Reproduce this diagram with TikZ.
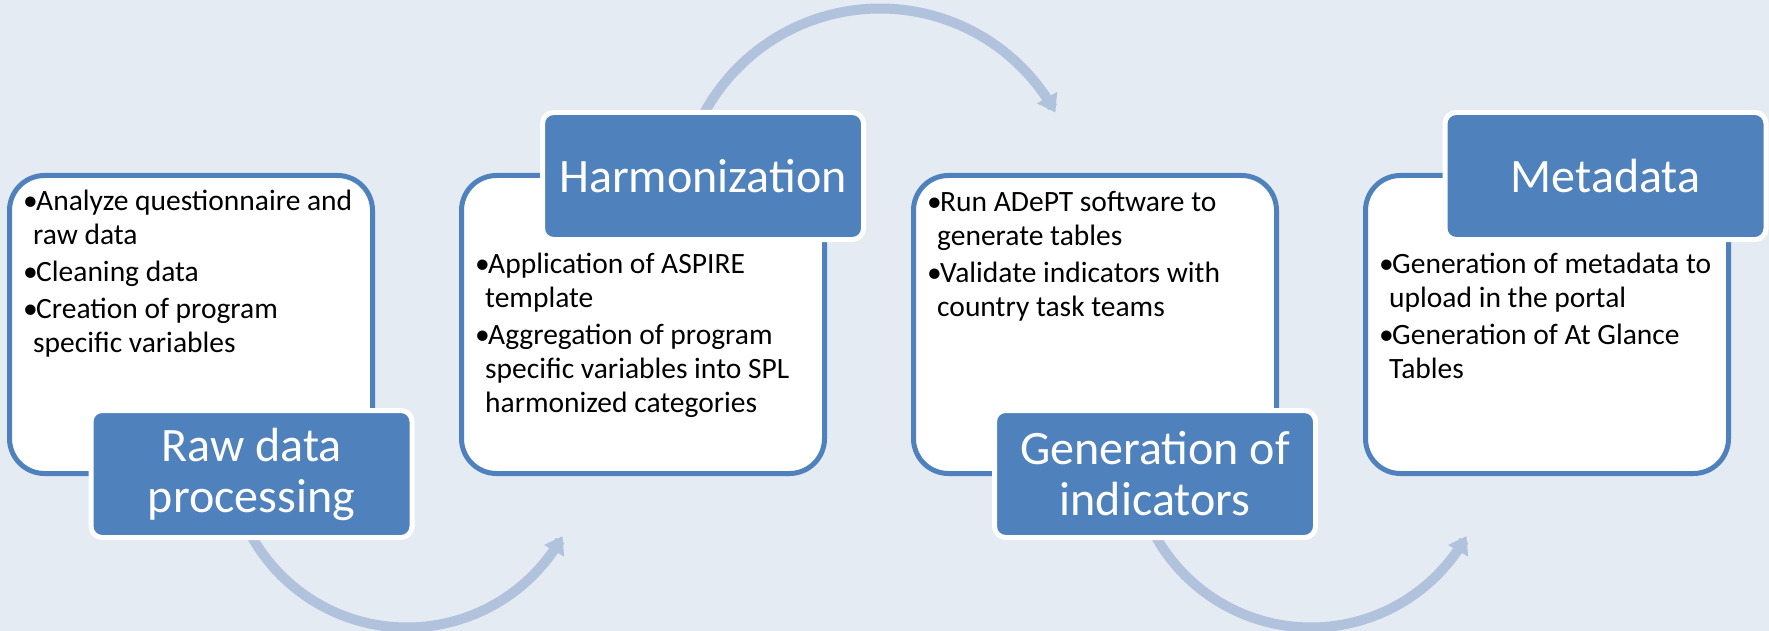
\documentclass[tikz,border=0pt]{standalone}
\usepackage{fontspec}
\setmainfont{Carlito}
\usetikzlibrary{arrows.meta}
\definecolor{bg}{RGB}{229,235,243}
\definecolor{accent}{RGB}{79,129,189}
\definecolor{arrowc}{RGB}{177,194,221}
\tikzset{
 panel/.style={draw=accent, line width=5pt, fill=white, rounded corners=35pt, minimum width=363pt, minimum height=298pt, inner sep=0pt},
 tag/.style={draw=white, line width=5pt, fill=accent, rounded corners=11pt, minimum width=321pt, minimum height=127pt, inner sep=0pt, text=white, font=\fontsize{48}{51}\selectfont, align=center},
 body/.style={anchor=north west, inner sep=0pt, align=left, font=\fontsize{29.5}{34}\selectfont, text=black},
 flow/.style={draw=arrowc, line width=10pt, -{Triangle[length=17pt,width=22pt]}},
}
\newcommand{\bul}{\makebox[13pt][l]{\textbullet}}
\newcommand{\ind}{\hspace*{10pt}}
\newcommand{\fst}{\rule{0pt}{25pt}}
\begin{document}
\begin{tikzpicture}[x=1pt,y=-1pt]
\fill[bg] (0,0) rectangle (1769,631);
\useasboundingbox (0,0) rectangle (1769,631);
% circular arrows
\coordinate (c1) at (407,449.5);
\coordinate (c2) at (880,208.5);
\coordinate (c3) at (1311,449.5);
\draw[flow] plot[domain=160:29.1, samples=80] ({407+178*cos(\x)},{449.5+178*sin(\x)});
\draw[flow] plot[domain=200:331.3, samples=80] ({880+200*cos(\x)},{208.5+200*sin(\x)});
\draw[flow] plot[domain=160:29.1, samples=80] ({1311+178*cos(\x)},{449.5+178*sin(\x)});
% panels
\node[panel] (p1) at (191,324.5) {};
\node[panel] (p2) at (643,324.5) {};
\node[panel] (p3) at (1095,324.5) {};
\node[panel] (p4) at (1547,324.5) {};
% body texts
\node[body] (b1) at (23,185) {\fst\bul Analyze questionnaire and\\ \ind raw data\\[3pt] \bul Cleaning data\\[3pt] \bul Creation of program\\ \ind specific variables};
\node[body] (b2) at (475,248) {\fst\bul Application of ASPIRE\\ \ind template\\[3pt] \bul Aggregation of program\\ \ind specific variables into SPL\\ \ind harmonized categories};
\node[body] (b3) at (927,186) {\fst\bul Run ADePT software to\\ \ind generate tables\\[3pt] \bul Validate indicators with\\ \ind country task teams};
\node[body] (b4) at (1379,248) {\fst\bul Generation of metadata to\\ \ind upload in the portal\\[3pt] \bul Generation of At Glance\\ \ind Tables};
% labels
\node[tag] (t1) at (251.5,474) {Raw data\\processing};
\node[tag] (t2) at (703,176) {Harmonization};
\node[tag] (t3) at (1155,474) {Generation of\\indicators};
\node[tag] (t4) at (1605.5,176) {Metadata};
\end{tikzpicture}
\end{document}
